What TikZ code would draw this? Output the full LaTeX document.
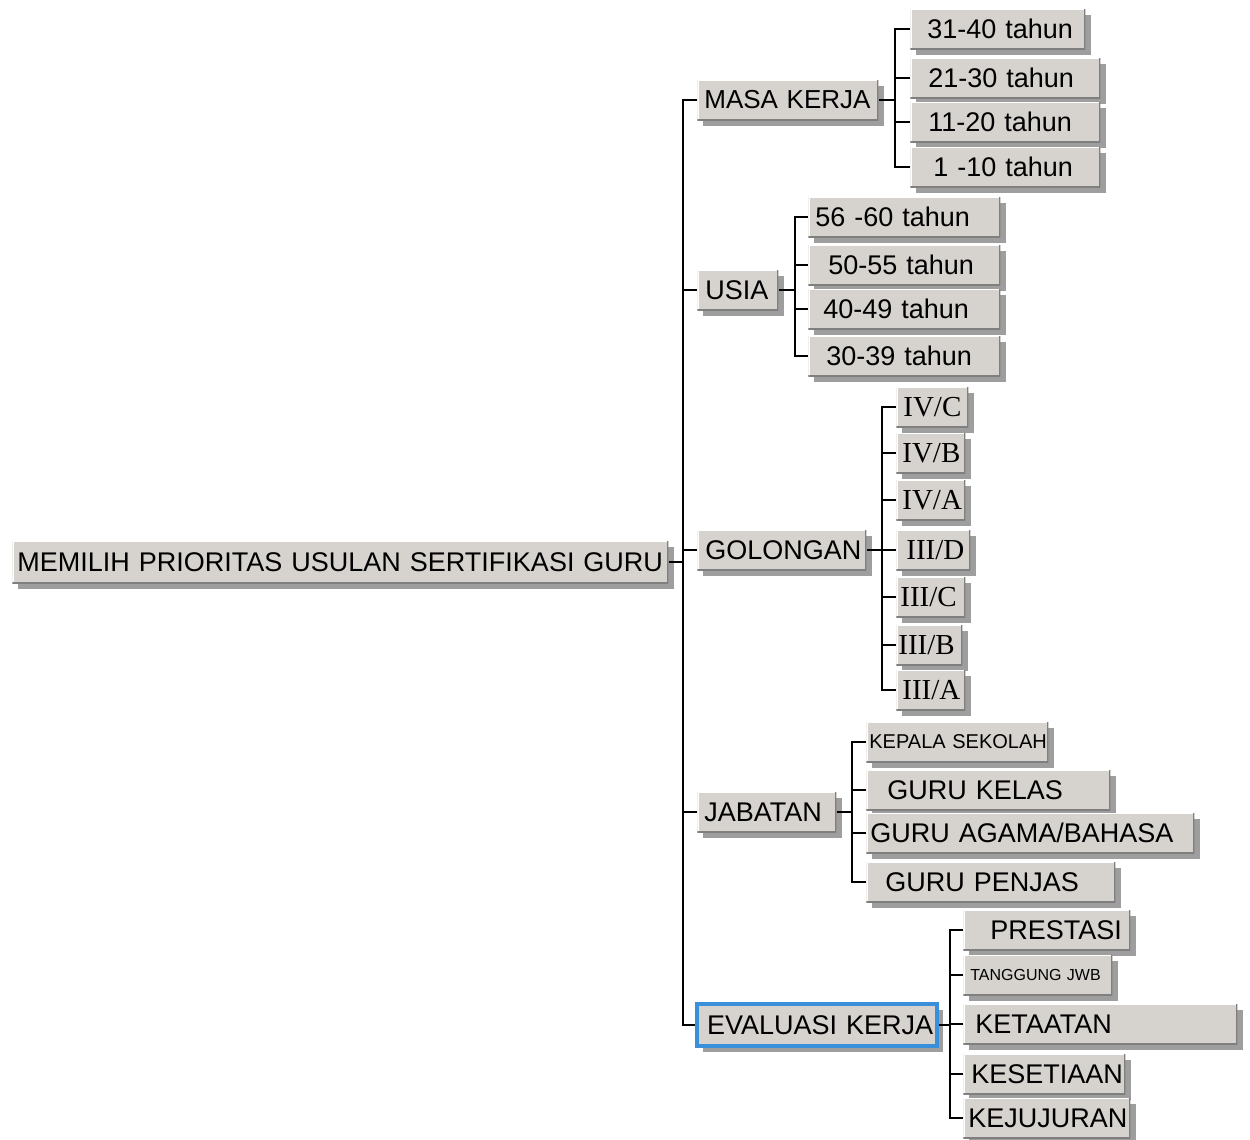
\documentclass[tikz,border=0pt]{standalone}
\usepackage{fontspec}
\setmainfont{Liberation Sans}
\newfontfamily\romawi{Liberation Serif}
\usetikzlibrary{shadows}

\definecolor{boxfill}{HTML}{D6D3CE}
\definecolor{boxshade}{HTML}{9E9E9E}
\definecolor{boxedge}{HTML}{7F7F7F}
\definecolor{selblue}{HTML}{3A8FDA}

\tikzset{
  box/.style={fill=boxfill, anchor=west, align=left,
    inner xsep=0pt, inner ysep=0pt, minimum height=20pt,
    font=\fontsize{13.5}{15}\selectfont,
    drop shadow={shadow xshift=3pt, shadow yshift=-3pt, fill=boxshade, opacity=1},
    path picture={
      \draw[white, line width=1.2pt] (path picture bounding box.south west)
        |- (path picture bounding box.north east);
      \draw[boxedge, line width=1.2pt] (path picture bounding box.south west)
        -| (path picture bounding box.north east);
    }},
  rbox/.style={box, font=\fontsize{14.5}{16}\romawi},
  link/.style={draw=black, line width=0.8pt},
}

\begin{document}
\begin{tikzpicture}[x=0.5pt, y=-0.5pt]
\useasboundingbox (0,0) rectangle (1250,1140);

% akar
\node[box, text width=328pt, minimum height=21pt] (root) at (12,562) {\hspace*{2.5pt}MEMILIH PRIORITAS USULAN SERTIFIKASI GURU};

% kriteria
\node[box, text width=90.5pt, font=\fontsize{13}{15}\selectfont] (mk) at (697,100) {\hspace*{3.5pt}MASA KERJA};
\node[box, text width=40.5pt] (us) at (697,290) {\hspace*{4pt}USIA};
\node[box, text width=84.5pt] (go) at (697,550) {\hspace*{4pt}GOLONGAN};
\node[box, text width=69.5pt] (ja) at (697,812) {\hspace*{3.5pt}JABATAN};
\node[box, text width=120pt, minimum height=21pt, draw=selblue, line width=2pt] (ev) at (695,1025) {\hspace*{5pt}EVALUASI KERJA};

% masa kerja
\node[box, text width=87.5pt] (mk1) at (910,29) {\hspace*{8.5pt}31-40 tahun};
\node[box, text width=95pt] (mk2) at (910,78) {\hspace*{9pt}21-30 tahun};
\node[box, text width=95pt] (mk3) at (910,122) {\hspace*{9pt}11-20 tahun};
\node[box, text width=95pt] (mk4) at (910,167) {\hspace*{11.5pt}1 -10 tahun};

% usia
\node[box, text width=96pt] (us1) at (808,217) {\hspace*{3.5pt}56 -60 tahun};
\node[box, text width=96pt] (us2) at (808,265) {\hspace*{10pt}50-55 tahun};
\node[box, text width=96pt] (us3) at (808,309) {\hspace*{7.5pt}40-49 tahun};
\node[box, text width=96pt] (us4) at (808,356) {\hspace*{9pt}30-39 tahun};

% golongan
\node[rbox, text width=36pt] (go1) at (896,407) {\hspace*{3.5pt}IV/C};
\node[rbox, text width=34.5pt] (go2) at (896,453) {\hspace*{3pt}IV/B};
\node[rbox, text width=34.5pt] (go3) at (896,500) {\hspace*{3pt}IV/A};
\node[rbox, text width=37pt] (go4) at (896,550) {\hspace*{5pt}III/D};
\node[rbox, text width=34.5pt] (go5) at (896,597) {\hspace*{2pt}III/C};
\node[rbox, text width=33pt] (go6) at (896,645) {\hspace*{1pt}III/B};
\node[rbox, text width=34.5pt] (go7) at (896,690) {\hspace*{3pt}III/A};

% jabatan
\node[box, text width=91pt, font=\fontsize{10}{12}\selectfont] (ja1) at (866,742) {\hspace*{1.5pt}KEPALA SEKOLAH};
\node[box, text width=122pt] (ja2) at (866,790) {\hspace*{10.5pt}GURU KELAS};
\node[box, text width=164pt] (ja3) at (866,833) {\hspace*{2pt}GURU AGAMA/BAHASA};
\node[box, text width=124.5pt] (ja4) at (866,882) {\hspace*{9.5pt}GURU PENJAS};

% evaluasi kerja
\node[box, text width=83.5pt] (ev1) at (963,930) {\hspace*{13.5pt}PRESTASI};
\node[box, text width=74.5pt, font=\fontsize{8}{10}\selectfont] (ev2) at (963,975) {\hspace*{3.5pt}TANGGUNG JWB};
\node[box, text width=137pt] (ev3) at (963,1024) {\hspace*{6pt}KETAATAN};
\node[box, text width=81pt] (ev4) at (963,1074) {\hspace*{4pt}KESETIAAN};
\node[box, text width=83.5pt] (ev5) at (963,1118) {\hspace*{2.5pt}KEJUJURAN};

% garis penghubung
\coordinate (trunk) at (683,562);
\coordinate (mkbus) at (895,100);
\coordinate (usbus) at (795,290);
\coordinate (gobus) at (882,550);
\coordinate (jabus) at (852,812);
\coordinate (evbus) at (950,1025);

\draw[link] (root.east) -- (trunk);
\foreach \n in {mk,us,go,ja,ev}
  \draw[link] (\n.west) -| (trunk);

\draw[link] (mk.east) -- (mkbus);
\foreach \n in {mk1,mk2,mk3,mk4}
  \draw[link] (\n.west) -| (mkbus);
\draw[link] (us.east) -- (usbus);
\foreach \n in {us1,us2,us3,us4}
  \draw[link] (\n.west) -| (usbus);
\draw[link] (go.east) -- (gobus);
\foreach \n in {go1,go2,go3,go4,go5,go6,go7}
  \draw[link] (\n.west) -| (gobus);
\draw[link] (ja.east) -- (jabus);
\foreach \n in {ja1,ja2,ja3,ja4}
  \draw[link] (\n.west) -| (jabus);
\draw[link] (ev.east) -- (evbus);
\foreach \n in {ev1,ev2,ev3,ev4,ev5}
  \draw[link] (\n.west) -| (evbus);
\end{tikzpicture}
\end{document}
